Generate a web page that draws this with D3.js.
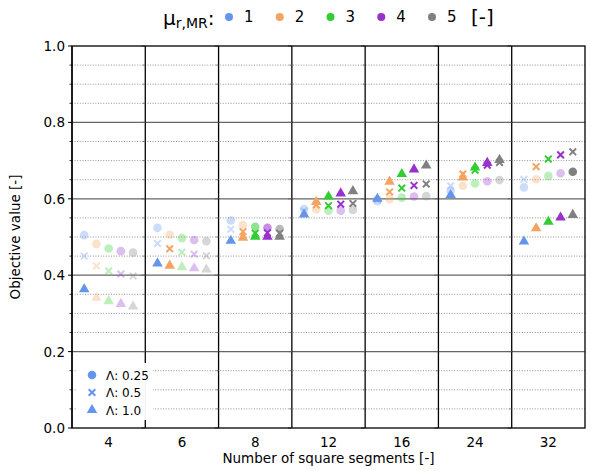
<!DOCTYPE html>
<html>
<head>
<meta charset="utf-8">
<script src="https://cdn.jsdelivr.net/npm/d3@7"></script>
<style>
  body { margin: 0; background: #fff; }
  text { font-family: "DejaVu Sans", sans-serif; fill: #000; }
</style>
</head>
<body>
<div id="chart"></div>
<script>
// square segment counts (one panel per group)
var groups = ["4", "6", "8", "12", "16", "24", "32"];
var mus = [1, 2, 3, 4, 5];
var lambdas = ["0.25", "0.5", "1.0"];
var yTicks = [0.0, 0.2, 0.4, 0.6, 0.8, 1.0];

// objective values, rows = groups, columns = mu 1..5
var valLam025 = [
    [0.505, 0.482, 0.470, 0.463, 0.459],
    [0.524, 0.506, 0.497, 0.492, 0.489],
    [0.543, 0.531, 0.527, 0.524, 0.521],
    [0.573, 0.572, 0.569, 0.569, 0.571],
    [0.594, 0.599, 0.603, 0.606, 0.607],
    [0.621, 0.634, 0.640, 0.646, 0.649],
    [0.630, 0.651, 0.660, 0.667, 0.671]
];
var valLam05 = [
    [0.450, 0.424, 0.411, 0.403, 0.398],
    [0.483, 0.469, 0.460, 0.455, 0.451],
    [0.520, 0.514, 0.510, 0.511, 0.510],
    [0.568, 0.584, 0.582, 0.586, 0.588],
    [0.597, 0.618, 0.628, 0.635, 0.639],
    [0.634, 0.665, 0.675, 0.688, 0.695],
    [0.651, 0.684, 0.704, 0.715, 0.723]
];
var valLam10 = [
    [0.363, 0.341, 0.332, 0.325, 0.318],
    [0.431, 0.425, 0.421, 0.418, 0.415],
    [0.490, 0.498, 0.501, 0.501, 0.501],
    [0.559, 0.592, 0.606, 0.614, 0.620],
    [0.600, 0.645, 0.665, 0.677, 0.687],
    [0.610, 0.656, 0.682, 0.694, 0.702],
    [0.488, 0.523, 0.540, 0.551, 0.558]
];

// emphasis level of each point (0 faint, 1 medium, 2 full)
var levLam025 = [
    [0, 0, 0, 0, 0],
    [0, 0, 0, 0, 0],
    [0, 0, 1, 1, 1],
    [0, 0, 0, 0, 0],
    [0, 0, 0, 0, 0],
    [0, 0, 0, 0, 0],
    [0, 0, 0, 0, 2]
];
var levLam05 = [
    [0, 0, 0, 0, 0],
    [0, 2, 0, 0, 0],
    [0, 2, 2, 2, 2],
    [0, 2, 2, 2, 2],
    [0, 2, 2, 2, 2],
    [0, 2, 2, 2, 2],
    [0, 2, 2, 2, 2]
];
var levLam10 = [
    [2, 0, 0, 0, 0],
    [2, 2, 0, 0, 0],
    [2, 2, 2, 2, 2],
    [2, 2, 2, 2, 2],
    [2, 2, 2, 2, 2],
    [2, 2, 2, 2, 2],
    [2, 2, 2, 2, 2]
];

function init() {
    var w = 591, h = 471;
    var m = {top: 46, right: 6, bottom: 43, left: 72};

    var svg = d3.select("#chart").append("svg")
        .attr("width", w)
        .attr("height", h);

    var x = d3.scaleBand().domain(groups).range([m.left, w - m.right]);
    var xi = d3.scalePoint().domain(mus).range([-x.bandwidth() / 3, x.bandwidth() / 3]);
    var y = d3.scaleLinear().domain([0, 1]).range([h - m.bottom, m.top]);
    var color = d3.scaleOrdinal().domain(mus)
        .range(["#6495ed", "#f4a460", "#32cd32", "#9932cc", "#808080"]);
    var alpha = d3.scaleOrdinal().domain([0, 1, 2]).range([0.32, 0.55, 1]);

    var minor = d3.range(0.05, 1.0, 0.05).filter(function(v) {
        return Math.abs(v * 5 - Math.round(v * 5)) > 1e-6;
    });
    var major = yTicks.filter(function(v) { return v > 0 && v < 1; });

    // grid
    svg.append("g").selectAll("line").data(minor).enter().append("line")
        .attr("x1", m.left).attr("x2", w - m.right)
        .attr("y1", function(d) { return y(d); })
        .attr("y2", function(d) { return y(d); })
        .attr("stroke", "#888").attr("stroke-width", 0.9)
        .attr("stroke-dasharray", "1,1.6");
    svg.append("g").selectAll("line").data(major).enter().append("line")
        .attr("x1", m.left).attr("x2", w - m.right)
        .attr("y1", function(d) { return y(d); })
        .attr("y2", function(d) { return y(d); })
        .attr("stroke", "#666").attr("stroke-width", 1.3);

    // panel separators + ticks on each panel's left edge
    groups.forEach(function(g) {
        var gx = x(g);
        svg.append("line")
            .attr("x1", gx).attr("x2", gx)
            .attr("y1", y(0)).attr("y2", y(1))
            .attr("stroke", "#000").attr("stroke-width", 1.3);
        svg.append("g").selectAll("line").data(major.concat([0, 1])).enter().append("line")
            .attr("x1", gx - 4).attr("x2", gx)
            .attr("y1", function(d) { return y(d); })
            .attr("y2", function(d) { return y(d); })
            .attr("stroke", g === groups[0] ? "#000" : "#666").attr("stroke-width", 1);
        svg.append("g").selectAll("line").data(minor).enter().append("line")
            .attr("x1", gx - 2.5).attr("x2", gx)
            .attr("y1", function(d) { return y(d); })
            .attr("y2", function(d) { return y(d); })
            .attr("stroke", g === groups[0] ? "#000" : "#666").attr("stroke-width", 0.8);
    });

    // frame
    svg.append("rect")
        .attr("x", m.left).attr("y", m.top)
        .attr("width", w - m.left - m.right)
        .attr("height", h - m.top - m.bottom)
        .attr("fill", "none").attr("stroke", "#000").attr("stroke-width", 1.3);

    // y tick labels
    svg.append("g").selectAll("text").data(yTicks).enter().append("text")
        .attr("x", m.left - 7)
        .attr("y", function(d) { return y(d) + 5; })
        .attr("text-anchor", "end")
        .style("font-size", "13.5px")
        .text(function(d) { return d.toFixed(1); });

    // x tick labels
    svg.append("g").selectAll("text").data(groups).enter().append("text")
        .attr("x", function(d) { return x(d) + x.bandwidth() / 2; })
        .attr("y", h - m.bottom + 19)
        .attr("text-anchor", "middle")
        .style("font-size", "13.5px")
        .text(function(d) { return d; });

    svg.append("text")
        .attr("x", (m.left + w - m.right) / 2)
        .attr("y", h - 8)
        .attr("text-anchor", "middle")
        .style("font-size", "13.5px")
        .text("Number of square segments [-]");
    svg.append("text")
        .attr("transform", "translate(20," + (y(0.5)) + ") rotate(-90)")
        .attr("text-anchor", "middle")
        .style("font-size", "13.5px")
        .text("Objective value [-]");

    // points
    var shapes = [d3.symbolCircle, d3.symbolCross, d3.symbolTriangle];
    var series = [
        {vals: valLam025, lev: levLam025, shape: 0},
        {vals: valLam05, lev: levLam05, shape: 1},
        {vals: valLam10, lev: levLam10, shape: 2}
    ];
    var points = [];
    series.forEach(function(s) {
        groups.forEach(function(g, gi) {
            mus.forEach(function(mu, mi) {
                points.push({g: g, mu: mu, v: s.vals[gi][mi], lev: s.lev[gi][mi], shape: s.shape});
            });
        });
    });

    function markerPath(shape) {
        if (shape === 0) return d3.symbol().type(d3.symbolCircle).size(58)();
        if (shape === 2) return d3.symbol().type(d3.symbolTriangle).size(48)();
        return "M-3.3,-3.3L3.3,3.3M-3.3,3.3L3.3,-3.3";
    }

    svg.append("g").selectAll("path").data(points).enter().append("path")
        .attr("transform", function(d) {
            return "translate(" + (x(d.g) + x.bandwidth() / 2 + xi(d.mu)) + "," + y(d.v) + ")";
        })
        .attr("d", function(d) { return markerPath(d.shape); })
        .attr("fill", function(d) { return d.shape === 1 ? "none" : color(d.mu); })
        .attr("stroke", function(d) { return d.shape === 1 ? color(d.mu) : "none"; })
        .attr("stroke-width", 2)
        .attr("opacity", function(d) { return alpha(d.lev); });

    // Lambda legend
    var lg = svg.append("g");
    lg.append("rect")
        .attr("x", m.left + 4).attr("y", 363)
        .attr("width", 77).attr("height", 57)
        .attr("fill", "#fff").attr("opacity", 0.95);
    lambdas.forEach(function(l, i) {
        var ly = 375 + i * 17.5;
        lg.append("path")
            .attr("transform", "translate(92," + ly + ")")
            .attr("d", markerPath(i))
            .attr("fill", i === 1 ? "none" : color(1))
            .attr("stroke", i === 1 ? color(1) : "none")
            .attr("stroke-width", 2);
        lg.append("text")
            .attr("x", 106).attr("y", ly + 4.5)
            .style("font-size", "12px")
            .text("\u039B: " + l);
    });

    // mu legend on top
    var tg = svg.append("g");
    var mu = tg.append("text").attr("x", 163).attr("y", 25).style("font-size", "20px");
    mu.append("tspan").text("\u03BC");
    mu.append("tspan").attr("dy", 3).style("font-size", "14px").text("r,MR");
    mu.append("tspan").attr("dy", -3).text(":");
    var lx = d3.scalePoint().domain(mus).range([229, 432]);
    tg.selectAll("circle").data(mus).enter().append("circle")
        .attr("cx", function(d) { return lx(d); })
        .attr("cy", 17)
        .attr("r", 4)
        .attr("fill", function(d) { return color(d); });
    tg.selectAll("text.n").data(mus).enter().append("text")
        .attr("class", "n")
        .attr("x", function(d) { return lx(d) + 15; })
        .attr("y", 22)
        .style("font-size", "15px")
        .text(function(d) { return d; });
    tg.append("text").attr("x", 471).attr("y", 24).style("font-size", "20px").text("[-]");
}
window.onload = init;
</script>
</body>
</html>
